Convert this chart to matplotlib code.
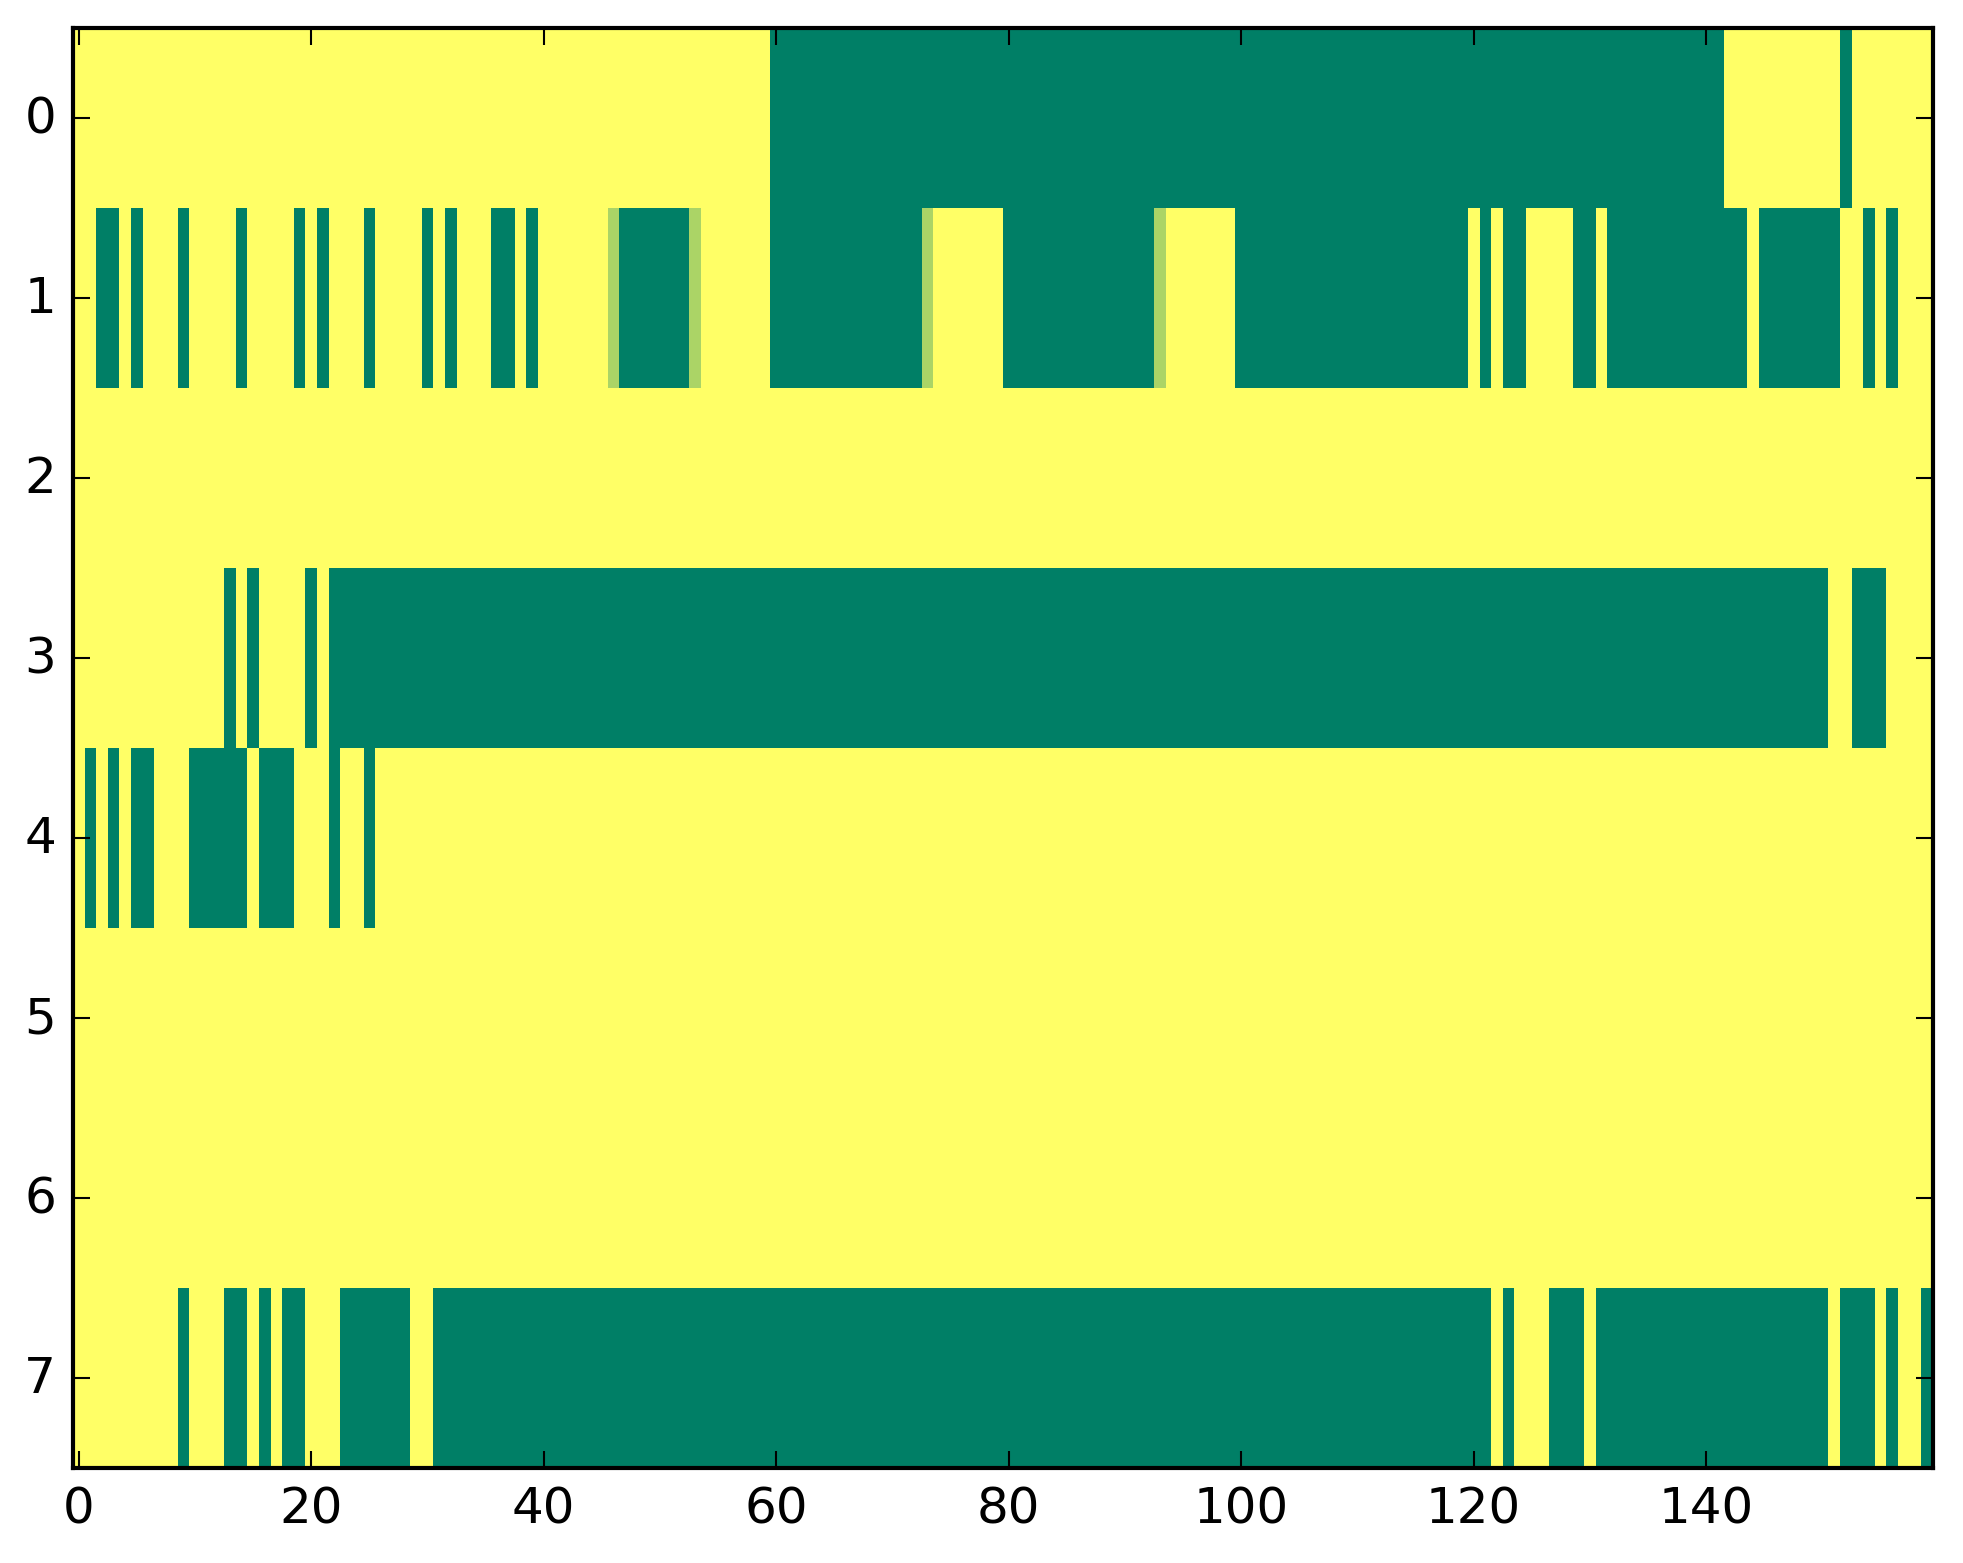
import matplotlib
matplotlib.use('Agg')
import matplotlib.pyplot as plt
import numpy as np

plt.style.use('classic')

# cada fila como tramos (valor, cantidad de columnas): 0 = verde, 1 = amarillo
row0 = [(1, 60), (0, 82), (1, 10), (0, 1), (1, 7)]
row1 = [(1, 2), (0, 2), (1, 1), (0, 1), (1, 3), (0, 1), (1, 4), (0, 1), (1, 4), (0, 1),
        (1, 1), (0, 1), (1, 3), (0, 1), (1, 4), (0, 1), (1, 1), (0, 1), (1, 3), (0, 2),
        (1, 1), (0, 1), (1, 6), (0.67, 1), (0, 6), (0.67, 1), (1, 6), (0, 13), (0.67, 1),
        (1, 6), (0, 13), (0.67, 1), (1, 6), (0, 20), (1, 1), (0, 1), (1, 1), (0, 2),
        (1, 4), (0, 2), (1, 1), (0, 12), (1, 1), (0, 7), (1, 2), (0, 1), (1, 1), (0, 1),
        (1, 3)]
row2 = [(1, 160)]
row3 = [(1, 13), (0, 1), (1, 1), (0, 1), (1, 4), (0, 1), (1, 1), (0, 129), (1, 2),
        (0, 3), (1, 4)]
row4 = [(1, 1), (0, 1), (1, 1), (0, 1), (1, 1), (0, 2), (1, 3), (0, 5), (1, 1), (0, 3),
        (1, 3), (0, 1), (1, 2), (0, 1), (1, 134)]
row5 = [(1, 160)]
row6 = [(1, 160)]
row7 = [(1, 9), (0, 1), (1, 3), (0, 2), (1, 1), (0, 1), (1, 1), (0, 2), (1, 3), (0, 6),
        (1, 2), (0, 91), (1, 1), (0, 1), (1, 3), (0, 3), (1, 1), (0, 20), (1, 1), (0, 3),
        (1, 1), (0, 1), (1, 2), (0, 1)]

rows = [row0, row1, row2, row3, row4, row5, row6, row7]
x_ticks = [0, 20, 40, 60, 80, 100, 120, 140]
y_ticks = [0, 1, 2, 3, 4, 5, 6, 7]

# Expandir los tramos a la matriz 8x160
grid = np.array([np.repeat([v for v, n in r], [n for v, n in r]) for r in rows])

fig = plt.figure(figsize=(1963 / 300, 1564 / 300), dpi=300)
ax = fig.add_axes([0.0371, 0.0607, 0.9475, 0.9207])
ax.imshow(grid, cmap='summer', vmin=0, vmax=1, aspect='auto', interpolation='nearest')
ax.set_xticks(x_ticks)
ax.set_yticks(y_ticks)
ax.set_xlim(-0.5, grid.shape[1] - 0.5)
ax.set_ylim(grid.shape[0] - 0.5, -0.5)

fig.savefig('out.png', dpi=300)
